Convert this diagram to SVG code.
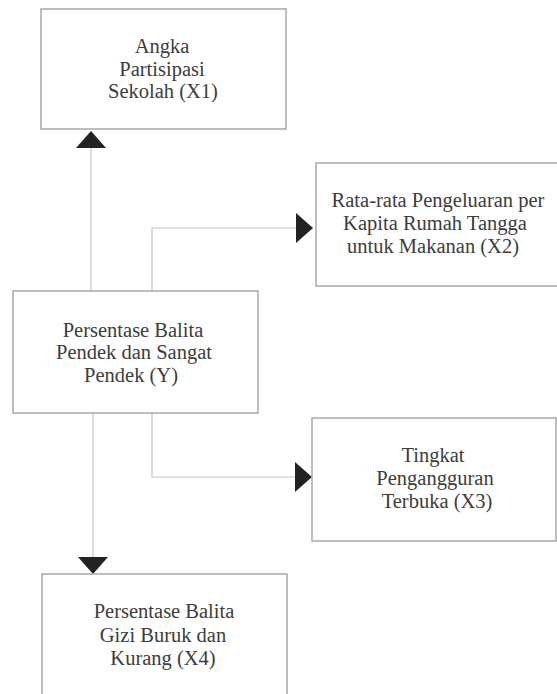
<svg xmlns="http://www.w3.org/2000/svg" width="557" height="694" viewBox="0 0 557 694">
<style>
.box{fill:#fff;stroke:#a8a8a8;stroke-width:1.5}
.lbl{font-family:'Liberation Serif','DejaVu Serif',serif;font-size:20.5px;fill:#3c3c3c;text-anchor:middle}
.con{fill:none;stroke:#c4c4c4;stroke-width:1.2}
</style>
<defs>
<marker id="ah" viewBox="0 0 17 30" refX="17" refY="15" markerWidth="17" markerHeight="30" markerUnits="userSpaceOnUse" orient="auto">
<path d="M0,0 L17,15 L0,30 z" fill="#222"/>
</marker>
</defs>
<rect width="557" height="694" fill="#fff"/>
<g id="connectors">
<path class="con" d="M91,291 V131" marker-end="url(#ah)"/>
<path class="con" d="M152,291 V228 H313" marker-end="url(#ah)"/>
<path class="con" d="M152,413 V477 H312" marker-end="url(#ah)"/>
<path class="con" d="M93,413 V574" marker-end="url(#ah)"/>
</g>
<g id="X1">
<rect class="box" x="41" y="9" width="245" height="120"/>
<text class="lbl" x="162" y="53">Angka</text>
<text class="lbl" x="162" y="76">Partisipasi</text>
<text class="lbl" x="163" y="98">Sekolah (X1)</text>
</g>
<g id="X2">
<rect class="box" x="316" y="163" width="245" height="123"/>
<text class="lbl" x="438" y="207">Rata-rata Pengeluaran per</text>
<text class="lbl" x="435" y="230">Kapita Rumah Tangga</text>
<text class="lbl" x="433" y="253">untuk Makanan (X2)</text>
</g>
<g id="Y">
<rect class="box" x="13" y="291" width="245" height="122"/>
<text class="lbl" x="133" y="337">Persentase Balita</text>
<text class="lbl" x="134" y="359">Pendek dan Sangat</text>
<text class="lbl" x="131" y="382">Pendek (Y)</text>
</g>
<g id="X3">
<rect class="box" x="312" y="418" width="244" height="123"/>
<text class="lbl" x="433" y="462">Tingkat</text>
<text class="lbl" x="435" y="485">Pengangguran</text>
<text class="lbl" x="437" y="508">Terbuka (X3)</text>
</g>
<g id="X4">
<rect class="box" x="42" y="574" width="245" height="130"/>
<text class="lbl" x="164" y="618">Persentase Balita</text>
<text class="lbl" x="163" y="642">Gizi Buruk dan</text>
<text class="lbl" x="163" y="665">Kurang (X4)</text>
</g>
</svg>
